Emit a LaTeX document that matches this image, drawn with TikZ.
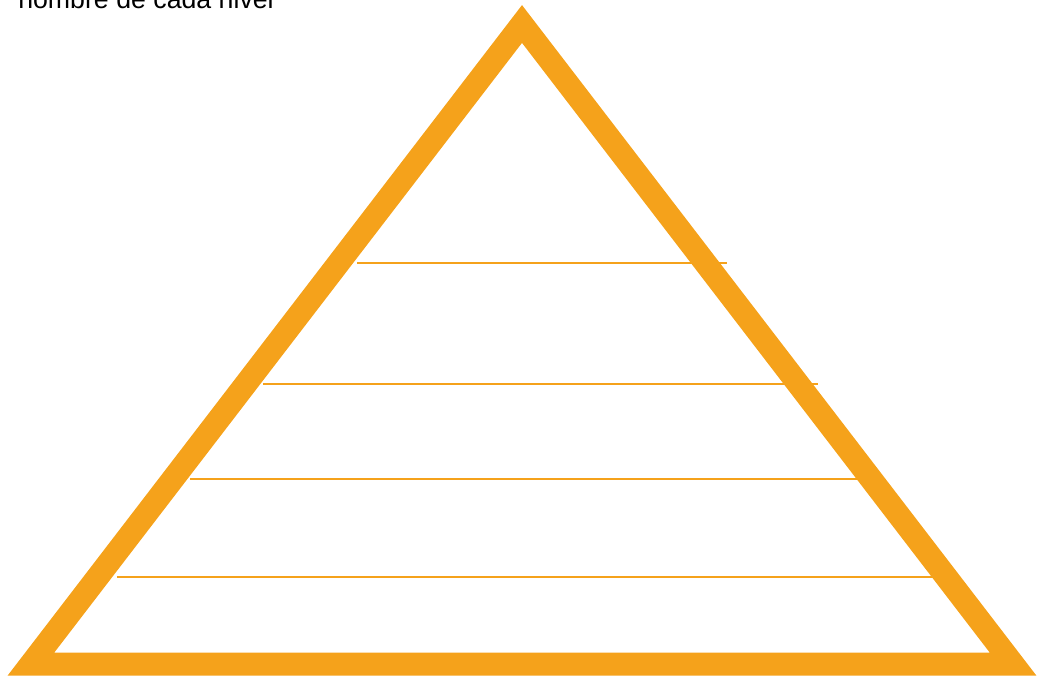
\documentclass[tikz,border=0pt]{standalone}
\usepackage{fontspec}
\setmainfont{Liberation Sans}
\usepackage{tikz}
\usetikzlibrary{calc}
\definecolor{pyrorange}{RGB}{245,162,27}

\begin{document}
\begin{tikzpicture}[x=0.025cm, y=-0.025cm]
\useasboundingbox (0,0) rectangle (1038,681);
\node[anchor=base west, inner sep=0pt, font=\fontsize{19}{22}\selectfont] (title) at (18,9) {nombre de cada nivel};
\coordinate (apex) at (522,24);
\coordinate (left) at (31,664);
\coordinate (right) at (1013,664);
\foreach \y/\xa/\xb in {263/357/727, 384/263/818, 479/190/860, 577/117/933}
    \draw[pyrorange, line width=2pt] (\xa,\y) -- (\xb,\y);
\draw[pyrorange, line width=0.575cm, line join=miter] (apex) -- (left) -- (right) -- cycle;
\end{tikzpicture}
\end{document}
